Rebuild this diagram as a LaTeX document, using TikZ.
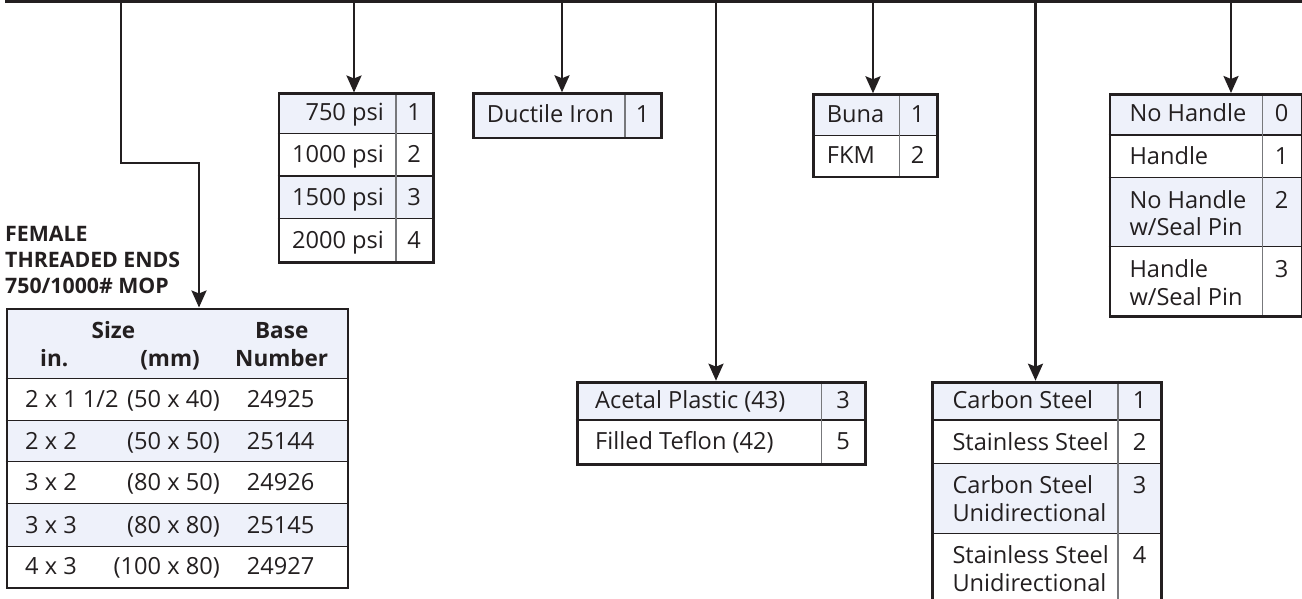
\documentclass[tikz,border=0pt]{standalone}
\usepackage{fontspec}
\setmainfont{Open Sans}
\usetikzlibrary{arrows.meta}
\definecolor{ink}{HTML}{231F20}
\definecolor{shadeblue}{HTML}{EEF1FA}
\definecolor{colgray}{HTML}{77787B}
\begin{document}
\begin{tikzpicture}[x=1pt,y=-1pt,
  conn/.style={draw=ink, line width=2.5pt, -{Stealth[length=17pt,width=15pt,inset=3pt]}},
  bus/.style={draw=ink, line width=2.8pt},
  frame/.style={draw=ink, line width=2.8pt, inner sep=0pt, anchor=north west, rectangle},
  shaded/.style={fill=shadeblue},
  rowline/.style={draw=ink, line width=1.1pt},
  colline/.style={draw=colgray, line width=1.1pt},
  txt/.style={inner sep=0pt, text=ink, font=\fontsize{23.6}{27.7}\selectfont},
  bold/.style={inner sep=0pt, text=ink, font=\bfseries\fontsize{22.5}{27.7}\selectfont},
  lbl/.style={inner sep=0pt, text=ink, font=\bfseries\fontsize{21.3}{25.8}\selectfont, align=left},
]
\useasboundingbox (0,0) rectangle (1302,599);

% ---------- bus line ----------
\coordinate (busL) at (5,1.2);
\coordinate (busR) at (1303,1.2);
\draw[bus] (busL) -- (busR);

% ---------- pressure table ----------
\fill[shaded] (277.5,92.5) rectangle (432,133.5);
\fill[shaded] (277.5,176) rectangle (432,218.5);
\draw[rowline] (277.5,133.5) -- (432,133.5);
\draw[rowline] (277.5,176) -- (432,176);
\draw[rowline] (277.5,218.5) -- (432,218.5);
\draw[colline] (396,92.5) -- (396,261);
\node[frame, minimum width=154.5pt, minimum height=168.5pt] (psi) at (277.5,92.5) {};
\node[txt, anchor=base east] (p1) at (384,121) {750 psi};
\node[txt, anchor=base east] (p2) at (384,163) {1000 psi};
\node[txt, anchor=base east] (p3) at (384,205.5) {1500 psi};
\node[txt, anchor=base east] (p4) at (384,248) {2000 psi};
\node[txt, anchor=base] (pn1) at (414,121) {1};
\node[txt, anchor=base] (pn2) at (414,163) {2};
\node[txt, anchor=base] (pn3) at (414,205.5) {3};
\node[txt, anchor=base] (pn4) at (414,248) {4};

% ---------- body table ----------
\fill[shaded] (471.7,92.3) rectangle (660,136.7);
\draw[colline] (625,92.3) -- (625,136.7);
\node[frame, minimum width=188.3pt, minimum height=44.4pt] (body) at (471.7,92.3) {};
\node[txt, anchor=base west] (b1) at (486.7,122.5) {Ductile Iron};
\node[txt, anchor=base] (bn1) at (642.5,122.5) {1};

% ---------- seal table ----------
\fill[shaded] (812.3,93.3) rectangle (935.7,135.7);
\draw[rowline] (812.3,135.7) -- (935.7,135.7);
\draw[colline] (899.3,93.3) -- (899.3,175.7);
\node[frame, minimum width=123.4pt, minimum height=82.4pt] (seal) at (812.3,93.3) {};
\node[txt, anchor=base west] (s1) at (826.7,122.5) {Buna};
\node[txt, anchor=base west] (s2) at (826.7,163.5) {FKM};
\node[txt, anchor=base] (sn1) at (917.5,122.5) {1};
\node[txt, anchor=base] (sn2) at (917.5,163.5) {2};

% ---------- handle table ----------
\fill[shaded] (1108.5,93) rectangle (1300.5,135);
\fill[shaded] (1108.5,177.7) rectangle (1300.5,246.7);
\draw[rowline] (1108.5,135) -- (1300.5,135);
\draw[rowline] (1108.5,177.7) -- (1300.5,177.7);
\draw[rowline] (1108.5,246.7) -- (1300.5,246.7);
\draw[colline] (1262.7,93) -- (1262.7,315);
\node[frame, minimum width=192pt, minimum height=222pt] (handle) at (1108.5,93) {};
\node[txt, anchor=base west] (h1) at (1129.3,122) {No Handle};
\node[txt, anchor=base west] (h2) at (1129.3,164.5) {Handle};
\node[txt, anchor=base west, align=left] (h3) at (1129.3,236) {No Handle\\w/Seal Pin};
\node[txt, anchor=base west, align=left] (h4) at (1129.3,305) {Handle\\w/Seal Pin};
\node[txt, anchor=base] (hn1) at (1281.6,122) {0};
\node[txt, anchor=base] (hn2) at (1281.6,164.5) {1};
\node[txt, anchor=base] (hn3) at (1281.6,208.3) {2};
\node[txt, anchor=base] (hn4) at (1281.6,277.3) {3};

% ---------- seat table ----------
\fill[shaded] (575.7,380.7) rectangle (864,420);
\draw[rowline] (575.7,420) -- (864,420);
\draw[colline] (821.7,380.7) -- (821.7,463.3);
\node[frame, minimum width=288.3pt, minimum height=82.6pt] (seat) at (575.7,380.7) {};
\node[txt, anchor=base west] (t1) at (595,408.5) {Acetal Plastic (43)};
\node[txt, anchor=base west] (t2) at (595,449.5) {Filled Teflon (42)};
\node[txt, anchor=base] (tn1) at (843,408.5) {3};
\node[txt, anchor=base] (tn2) at (843,449.5) {5};

% ---------- material table ----------
\fill[shaded] (931,380.7) rectangle (1160,420);
\fill[shaded] (931,463.3) rectangle (1160,533.3);
\draw[rowline] (931,420) -- (1160,420);
\draw[rowline] (931,463.3) -- (1160,463.3);
\draw[rowline] (931,533.3) -- (1160,533.3);
\draw[colline] (1118,380.7) -- (1118,610);
\node[frame, minimum width=229pt, minimum height=229.3pt] (mat) at (931,380.7) {};
\node[txt, anchor=base west] (m1) at (952.3,408.5) {Carbon Steel};
\node[txt, anchor=base west] (m2) at (952.3,450) {Stainless Steel};
\node[txt, anchor=base west, align=left] (m3) at (952.3,521) {Carbon Steel\\Unidirectional};
\node[txt, anchor=base west, align=left] (m4) at (952.3,591) {Stainless Steel\\Unidirectional};
\node[txt, anchor=base] (mn1) at (1139.5,408.5) {1};
\node[txt, anchor=base] (mn2) at (1139.5,450) {2};
\node[txt, anchor=base] (mn3) at (1139.5,493.3) {3};
\node[txt, anchor=base] (mn4) at (1139.5,563.3) {4};

% ---------- size table ----------
\fill[shaded] (5.5,307.5) rectangle (346.5,378.3);
\fill[shaded] (5.5,420.7) rectangle (346.5,461.7);
\fill[shaded] (5.5,503.3) rectangle (346.5,546.7);
\draw[rowline] (5.5,378.3) -- (346.5,378.3);
\draw[rowline] (5.5,420.7) -- (346.5,420.7);
\draw[rowline] (5.5,461.7) -- (346.5,461.7);
\draw[rowline] (5.5,503.3) -- (346.5,503.3);
\draw[rowline] (5.5,546.7) -- (346.5,546.7);
\node[frame, minimum width=341pt, minimum height=279pt] (sizes) at (5.5,307.5) {};
\node[bold, anchor=base] (hs) at (113.5,338) {Size};
\node[bold, anchor=base] (hb) at (281.7,338) {Base};
\node[bold, anchor=base west] (hi) at (40,366.7) {in.};
\node[bold, anchor=base east] (hm) at (200,366.7) {(mm)};
\node[bold, anchor=base] (hn) at (281.7,366.7) {Number};
\node[txt, anchor=base west] (r1a) at (25,407.5) {2 x 1 1/2};
\node[txt, anchor=base east] (r1b) at (220,407.5) {(50 x 40)};
\node[txt, anchor=base west] (r1c) at (246.7,407.5) {24925};
\node[txt, anchor=base west] (r2a) at (25,449.2) {2 x 2};
\node[txt, anchor=base east] (r2b) at (220,449.2) {(50 x 50)};
\node[txt, anchor=base west] (r2c) at (246.7,449.2) {25144};
\node[txt, anchor=base west] (r3a) at (25,490.5) {3 x 2};
\node[txt, anchor=base east] (r3b) at (220,490.5) {(80 x 50)};
\node[txt, anchor=base west] (r3c) at (246.7,490.5) {24926};
\node[txt, anchor=base west] (r4a) at (25,533) {3 x 3};
\node[txt, anchor=base east] (r4b) at (220,533) {(80 x 80)};
\node[txt, anchor=base west] (r4c) at (246.7,533) {25145};
\node[txt, anchor=base west] (r5a) at (25,574.6) {4 x 3};
\node[txt, anchor=base east] (r5b) at (220,574.6) {(100 x 80)};
\node[txt, anchor=base west] (r5c) at (246.7,574.6) {24927};

\node[lbl, anchor=base west] (label) at (5,293.3) {FEMALE\\THREADED ENDS\\750/1000\# MOP};

% ---------- connectors ----------
\coordinate (tapA) at (121,1.2);
\coordinate (bendA) at (199,163);
\coordinate (tapB) at (354,1.2);
\coordinate (tapC) at (562,1.2);
\coordinate (tapD) at (716,1.2);
\coordinate (tapE) at (873,1.2);
\coordinate (tapF) at (1035.5,1.2);
\coordinate (tapG) at (1231,1.2);
\draw[conn] (tapA) |- (bendA) -- (bendA |- sizes.north);
\draw[conn] (tapB) -- (tapB |- psi.north);
\draw[conn] (tapC) -- (tapC |- body.north);
\draw[conn] (tapD) -- (tapD |- seat.north);
\draw[conn] (tapE) -- (tapE |- seal.north);
\draw[conn] (tapF) -- (tapF |- mat.north);
\draw[conn] (tapG) -- (tapG |- handle.north);
\end{tikzpicture}
\end{document}
